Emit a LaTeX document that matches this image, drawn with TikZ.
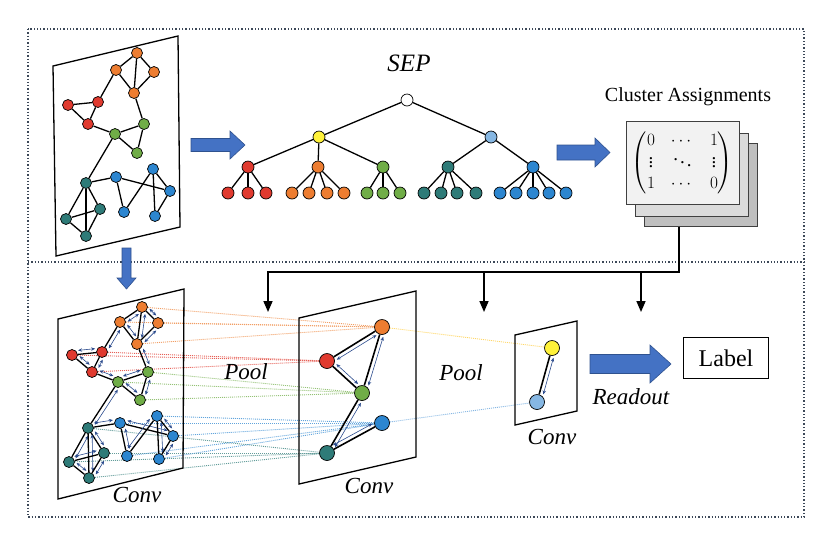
\documentclass[tikz,border=0pt]{standalone}
\usepackage{amsmath}
\usepackage{fontspec}
\setmainfont{Liberation Serif}
\usetikzlibrary{arrows.meta,calc,backgrounds}

\definecolor{cred}{HTML}{E03A2F}
\definecolor{corange}{HTML}{ED7D31}
\definecolor{cgreen}{HTML}{70AD47}
\definecolor{cteal}{HTML}{2E7B78}
\definecolor{cblue}{HTML}{2C86D0}
\definecolor{cyellow}{HTML}{FFF23A}
\definecolor{clight}{HTML}{86B7E3}
\definecolor{arrowblue}{HTML}{4472C4}
\definecolor{arrowedge}{HTML}{2F528F}
\definecolor{msgblue}{HTML}{2A4A8C}
\definecolor{framegray}{HTML}{3C4858}

\tikzset{
  vtx/.style={circle,draw,line width=0.7pt,inner sep=0pt,minimum size=11pt},
  leaf/.style={vtx,minimum size=12pt},
  bigvtx/.style={vtx,minimum size=15pt},
  link/.style={line width=1.3pt},
  plane/.style={draw,line width=1.3pt},
  msg/.style={draw=msgblue,line width=0.6pt,<->,>={Stealth[length=4pt,width=3.4pt]}},
  poolline/.style={dash pattern=on 1pt off 1pt,line width=0.9pt},
  feed/.style={line width=1.6pt,-{Triangle[length=11pt,width=9pt]}},
  fatblue/.style={fill=arrowblue,draw=arrowedge,line width=0.6pt},
  card/.style={draw=black!75,line width=0.8pt,minimum width=113pt,minimum height=83pt},
  optext/.style={font=\fontsize{23}{27}\selectfont\itshape},
}
\newcommand{\msgpass}[3][6.5pt]{\draw[msg,shorten <=#1,shorten >=#1] ($(#2)!4pt!90:(#3)$) -- ($(#3)!4pt!-90:(#2)$);}
\newcommand{\fatarrow}[6][0]{\path[fatblue,shift={(#2)},rotate=#1] (0,{-#4}) -- ({#3-#6},{-#4}) -- ({#3-#6},{-#5}) -- (#3,0) -- ({#3-#6},#5) -- ({#3-#6},#4) -- (0,#4) -- cycle;}
\newcommand{\edgelist}{o1/o2,o1/o3,o1/o4,o2/o4,o3/o4,o2/r2,r1/r2,r1/r3,r2/r3,o4/g2,r3/g1,g1/g2,g1/g3,g2/g3,g1/t1,t1/b1,t1/t2,t1/t3,t1/t4,t3/t2,t2/t4,t3/t4,b1/b3,b1/b4,b4/b2,b2/b3,b2/b5,b3/b5}

\begin{document}
\begin{tikzpicture}[x=1pt,y=-1pt]
    \useasboundingbox (0,0) rectangle (834,542);
    \draw[framegray,dash pattern=on 1.3pt off 2pt,line width=1.3pt] (28,29) rectangle (804,517);
    \draw[framegray,dash pattern=on 1.3pt off 2pt,line width=1.3pt] (28,262) -- (804,262);

    % input graph
    \draw[plane] (53,66) -- (178,36) -- (180,227) -- (56,256) -- cycle;
    \node[vtx,fill=corange] (o1) at (137,53) {};
    \node[vtx,fill=corange] (o2) at (116,70) {};
    \node[vtx,fill=corange] (o3) at (154,72) {};
    \node[vtx,fill=corange] (o4) at (134,93) {};
    \node[vtx,fill=cred] (r1) at (68,105) {};
    \node[vtx,fill=cred] (r2) at (98,102) {};
    \node[vtx,fill=cred] (r3) at (88,124) {};
    \node[vtx,fill=cgreen] (g1) at (115,134) {};
    \node[vtx,fill=cgreen] (g2) at (144,124) {};
    \node[vtx,fill=cgreen] (g3) at (137,153) {};
    \node[vtx,fill=cteal] (t1) at (86,183) {};
    \node[vtx,fill=cteal] (t2) at (100,209) {};
    \node[vtx,fill=cteal] (t3) at (66,219) {};
    \node[vtx,fill=cteal] (t4) at (86,236) {};
    \node[vtx,fill=cblue] (b1) at (116,177) {};
    \node[vtx,fill=cblue] (b2) at (153,169) {};
    \node[vtx,fill=cblue] (b3) at (170,191) {};
    \node[vtx,fill=cblue] (b4) at (124,212) {};
    \node[vtx,fill=cblue] (b5) at (155,216) {};
    \foreach \a/\b in \edgelist {\draw[link] (\a) -- (\b);}

    % SEP tree
    \node[optext,font=\fontsize{25}{29}\selectfont\itshape] (sep) at (409,63) {SEP};
    \node[leaf,fill=white] (root) at (407,100) {};
    \node[leaf,fill=cyellow] (ky) at (319,137) {};
    \node[leaf,fill=clight] (kl) at (491,137) {};
    \node[leaf,fill=cred] (kr) at (248,167) {};
    \node[leaf,fill=corange] (ko) at (318,167) {};
    \node[leaf,fill=cgreen] (kg) at (383,167) {};
    \node[leaf,fill=cteal] (kt) at (448,167) {};
    \node[leaf,fill=cblue] (kb) at (533,167) {};
    \draw[link] (root) -- (ky) (root) -- (kl) (ky) -- (kr) (ky) -- (ko) (ky) -- (kg) (kl) -- (kt) (kl) -- (kb);
    \foreach \x in {228,248,266} {\node[leaf,fill=cred] (lr\x) at (\x,193) {}; \draw[link] (kr) -- (lr\x);}
    \foreach \x in {292,309,327,344} {\node[leaf,fill=corange] (lo\x) at (\x,193) {}; \draw[link] (ko) -- (lo\x);}
    \foreach \x in {367,383,400} {\node[leaf,fill=cgreen] (lg\x) at (\x,193) {}; \draw[link] (kg) -- (lg\x);}
    \foreach \x in {424,441,457,476} {\node[leaf,fill=cteal] (lt\x) at (\x,193) {}; \draw[link] (kt) -- (lt\x);}
    \foreach \x in {500,516,533,549,566} {\node[leaf,fill=cblue] (lb\x) at (\x,193) {}; \draw[link] (kb) -- (lb\x);}

    % cluster assignments
    \node[font=\fontsize{20}{24}\selectfont] (ca) at (688,97) {Cluster Assignments};
    \node[card,fill=black!25] (c3) at (701,184.5) {};
    \node[card,fill=black!14] (c2) at (691.5,175) {};
    \node[card,fill=black!5] (c1) at (682.5,163) {};
    \node[font=\fontsize{19}{22}\selectfont] (mat) at (c1) {$\arraycolsep=8pt\renewcommand{\arraystretch}{0.95}\begin{pmatrix}0&\cdots&1\\ \vdots&\ddots&\vdots\\ 1&\cdots&0\end{pmatrix}$};

    \coordinate (a1) at (191,145);
    \coordinate (a2) at (557,152.5);
    \coordinate (a3) at (126.5,248);
    \coordinate (a4) at (590,364);
    \fatarrow{a1}{54}{6.5}{14}{15}
    \fatarrow{a2}{53}{7.5}{14.5}{15}
    \fatarrow[-90]{a3}{41}{4.5}{9.5}{11}
    \fatarrow{a4}{81}{9.5}{19}{21}

    \coordinate (tap) at (679,226.5);
    \coordinate (bus) at (679,272);
    \coordinate (in1) at (268,312);
    \coordinate (in2) at (484,312);
    \coordinate (in3) at (641,312);
    \draw[feed] (tap) -- (bus) -| (in1);
    \draw[feed] (in2 |- bus) -- (in2);
    \draw[feed] (in3 |- bus) -- (in3);

    % conv on input graph
    \draw[plane] (58,319) -- (184,289) -- (183,468) -- (58,499) -- cycle;
    \node[vtx,fill=corange] (ho1) at (142,307) {};
    \node[vtx,fill=corange] (ho2) at (120,322) {};
    \node[vtx,fill=corange] (ho3) at (158,323) {};
    \node[vtx,fill=corange] (ho4) at (137,344) {};
    \node[vtx,fill=cred] (hr1) at (72,355) {};
    \node[vtx,fill=cred] (hr2) at (102,352) {};
    \node[vtx,fill=cred] (hr3) at (92,372) {};
    \node[vtx,fill=cgreen] (hg1) at (118,382) {};
    \node[vtx,fill=cgreen] (hg2) at (148,372) {};
    \node[vtx,fill=cgreen] (hg3) at (140,400) {};
    \node[vtx,fill=cteal] (ht1) at (88,428) {};
    \node[vtx,fill=cteal] (ht2) at (104,453) {};
    \node[vtx,fill=cteal] (ht3) at (69,462) {};
    \node[vtx,fill=cteal] (ht4) at (89,478) {};
    \node[vtx,fill=cblue] (hb1) at (120,423) {};
    \node[vtx,fill=cblue] (hb2) at (157,416) {};
    \node[vtx,fill=cblue] (hb3) at (173,436) {};
    \node[vtx,fill=cblue] (hb4) at (127,456) {};
    \node[vtx,fill=cblue] (hb5) at (159,459) {};
    \foreach \a/\b in \edgelist {\draw[link] (h\a) -- (h\b); \msgpass{h\a}{h\b}}
    \node[optext] (conv1) at (137,495) {Conv};

    % first pooling
    \draw[plane] (299,318) -- (416,291) -- (416,457) -- (299,484) -- cycle;
    \node[bigvtx,fill=corange] (mo) at (382,327) {};
    \node[bigvtx,fill=cred] (mr) at (327,361) {};
    \node[bigvtx,fill=cgreen] (mg) at (362,393) {};
    \node[bigvtx,fill=cblue] (mb) at (382,423) {};
    \node[bigvtx,fill=cteal] (mt) at (327,453) {};
    \draw[link,line width=1.6pt] (mo) -- (mr) (mo) -- (mg) (mr) -- (mg) (mg) -- (mt) (mt) -- (mb);
    \foreach \a/\b in {mo/mr,mo/mg,mr/mg,mg/mt,mt/mb} {\msgpass[9pt]{\a}{\b}}
    \node[optext] (pool1) at (246,372) {Pool};
    \node[optext] (conv2) at (369,486) {Conv};

    % second pooling
    \draw[plane] (515,335) -- (577,321) -- (577,411) -- (515,425) -- cycle;
    \node[bigvtx,fill=cyellow] (ry) at (552,348) {};
    \node[bigvtx,fill=clight] (rl) at (537,402) {};
    \draw[link,line width=1.6pt] (ry) -- (rl);
    \msgpass[9pt]{ry}{rl}
    \node[optext] (pool2) at (461,373) {Pool};
    \node[optext] (conv3) at (552,437) {Conv};

    \node[optext] (readout) at (631,397) {Readout};
    \node[draw,line width=1.6pt,minimum width=85pt,minimum height=41pt,font=\fontsize{24}{28}\selectfont] (label) at (726,358) {Label};

    \begin{pgfonlayer}{background}
        \foreach \n in {o1,o2,o3,o4} {\draw[poolline,corange!75] (h\n) -- (mo);}
        \foreach \n in {r1,r2,r3} {\draw[poolline,cred!80] (h\n) -- (mr);}
        \foreach \n in {g1,g2,g3} {\draw[poolline,cgreen!75] (h\n) -- (mg);}
        \foreach \n in {t1,t2,t3,t4} {\draw[poolline,cteal!75] (h\n) -- (mt);}
        \foreach \n in {b1,b2,b3,b4,b5} {\draw[poolline,cblue!75] (h\n) -- (mb);}
        \draw[poolline,cyellow!60!orange!70] (mo) -- (ry);
        \draw[poolline,clight] (mb) -- (rl);
    \end{pgfonlayer}
\end{tikzpicture}
\end{document}
